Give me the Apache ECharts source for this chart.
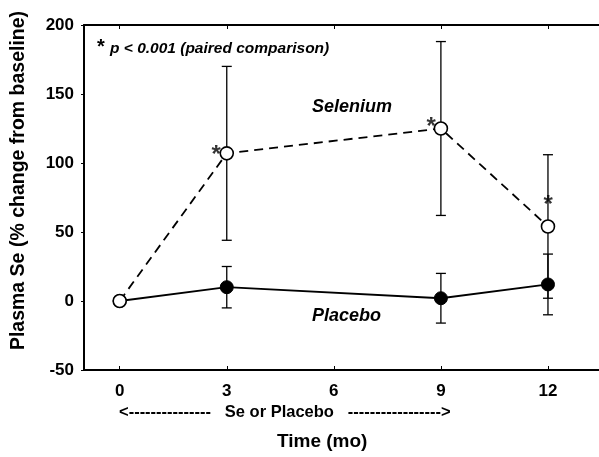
<!DOCTYPE html>
<html>
<head>
<meta charset="utf-8">
<script src="https://cdn.jsdelivr.net/npm/echarts@6/dist/echarts.min.js"></script>
<style>
  html, body { margin: 0; padding: 0; background: #fff; }
  #chart { width: 599px; height: 457px; }
</style>
</head>
<body>
<div id="chart"></div>
<script>
// time points (months)
const months = [0, 3, 9, 12]
const xTicks = [0, 3, 6, 9, 12]

// selenium group: mean % change and error bar ends
const seleniumMean = [0, 107, 125, 54]
const seleniumHigh = [null, 170, 188, 106]
const seleniumLow = [null, 44, 62, 2]

// placebo group
const placeboMean = [0, 10, 2, 12]
const placeboHigh = [null, 25, 20, 34]
const placeboLow = [null, -5, -16, -10]

// significance stars on selenium points
const starMonths = [3, 9, 12]
const starValues = [107, 125, 54]

const font = '"Liberation Sans", Arial, sans-serif'
const chart = echarts.init(document.getElementById('chart'))

const pairs = (ys) => months.map((m, i) => [m, ys[i]])
const errData = (hi, lo) => months.map((m, i) => [m, hi[i], lo[i]]).filter(d => d[1] !== null)

// error bar drawer
const errorBar = (params, api) => {
  const x = api.value(0)
  const top = api.coord([x, api.value(1)])
  const bot = api.coord([x, api.value(2)])
  const w = 5
  const st = { stroke: '#000', lineWidth: 1.3 }
  return {
    type: 'group',
    children: [
      { type: 'line', shape: { x1: top[0], y1: top[1], x2: bot[0], y2: bot[1] }, style: st },
      { type: 'line', shape: { x1: top[0] - w, y1: top[1], x2: top[0] + w, y2: top[1] }, style: st },
      { type: 'line', shape: { x1: bot[0] - w, y1: bot[1], x2: bot[0] + w, y2: bot[1] }, style: st }
    ]
  }
}

const starOffsets = [[-1, 2], [0, -1], [10, -21]]

let option = {
  animation: false,
  grid: { left: 84, top: 25, right: 0, bottom: 87, outerBoundsMode: 'none' },
  xAxis: [
    {
      type: 'value',
      min: -1,
      max: 13.43,
      position: 'bottom',
      splitLine: { show: false },
      axisLine: { onZero: false, lineStyle: { color: '#000', width: 2 } },
      axisTick: { inside: true, length: 4, customValues: xTicks, lineStyle: { color: '#000' } },
      axisLabel: { customValues: xTicks, color: '#000', fontFamily: font, fontWeight: 'bold', fontSize: 17, margin: 13 }
    },
    {
      type: 'value',
      min: -1,
      max: 13.43,
      position: 'top',
      splitLine: { show: false },
      axisLine: { onZero: false, lineStyle: { color: '#000', width: 2 } },
      axisTick: { inside: true, length: 4, customValues: xTicks, lineStyle: { color: '#000' } },
      axisLabel: { show: false }
    }
  ],
  yAxis: {
    type: 'value',
    min: -50,
    max: 200,
    interval: 50,
    splitLine: { show: false },
    axisLine: { show: true, onZero: false, lineStyle: { color: '#000', width: 2 } },
    axisTick: { show: true, length: 3, lineStyle: { color: '#000' } },
    axisLabel: { color: '#000', fontFamily: font, fontWeight: 'bold', fontSize: 17, margin: 10 },
    name: 'Plasma Se (% change from baseline)',
    nameLocation: 'middle',
    nameGap: 55,
    nameTextStyle: { color: '#000', fontFamily: font, fontWeight: 'bold', fontSize: 19.5, padding: [0, 0, 0, 34] }
  },
  series: [
    {
      name: 'Selenium error',
      type: 'custom',
      renderItem: errorBar,
      data: errData(seleniumHigh, seleniumLow),
      z: 1
    },
    {
      name: 'Placebo error',
      type: 'custom',
      renderItem: errorBar,
      data: errData(placeboHigh, placeboLow),
      z: 1
    },
    {
      name: 'Placebo',
      type: 'line',
      data: pairs(placeboMean),
      symbol: 'circle',
      symbolSize: 13,
      lineStyle: { color: '#000', width: 1.8 },
      itemStyle: { color: '#000', borderColor: '#000', borderWidth: 1 },
      z: 3
    },
    {
      name: 'Selenium',
      type: 'line',
      data: pairs(seleniumMean),
      symbol: 'circle',
      symbolSize: 13,
      lineStyle: { color: '#000', width: 1.8, type: [9, 6] },
      itemStyle: { color: '#fff', borderColor: '#000', borderWidth: 1.6 },
      z: 4
    },
    {
      name: 'stars',
      type: 'scatter',
      symbolSize: 0,
      data: starMonths.map((m, i) => ({
        value: [m, starValues[i]],
        label: { offset: starOffsets[i] }
      })),
      label: {
        show: true,
        position: 'left',
        formatter: '*',
        color: '#000',
        textBorderWidth: 0,
        fontFamily: font,
        fontWeight: 'bold',
        fontSize: 24
      },
      z: 5
    }
  ],
  graphic: [
    {
      type: 'text', left: 97, top: 37,
      style: { text: '*', font: 'bold 20px ' + font, fill: '#000' }
    },
    {
      type: 'text', left: 110, top: 41,
      style: { text: 'p < 0.001 (paired comparison)', font: 'italic bold 15.5px ' + font, fill: '#000' }
    },
    {
      type: 'text', left: 312, top: 98,
      style: { text: 'Selenium', font: 'italic bold 18px ' + font, fill: '#000' }
    },
    {
      type: 'text', left: 312, top: 307,
      style: { text: 'Placebo', font: 'italic bold 18px ' + font, fill: '#000' }
    },
    {
      type: 'text', left: 119, top: 404,
      style: { text: '<---------------   Se or Placebo   ----------------->', font: 'bold 16.5px ' + font, fill: '#000' }
    },
    {
      type: 'text', left: 277, top: 432,
      style: { text: 'Time (mo)', font: 'bold 19px ' + font, fill: '#000' }
    }
  ]
}
chart.setOption(option)
</script>
</body>
</html>
